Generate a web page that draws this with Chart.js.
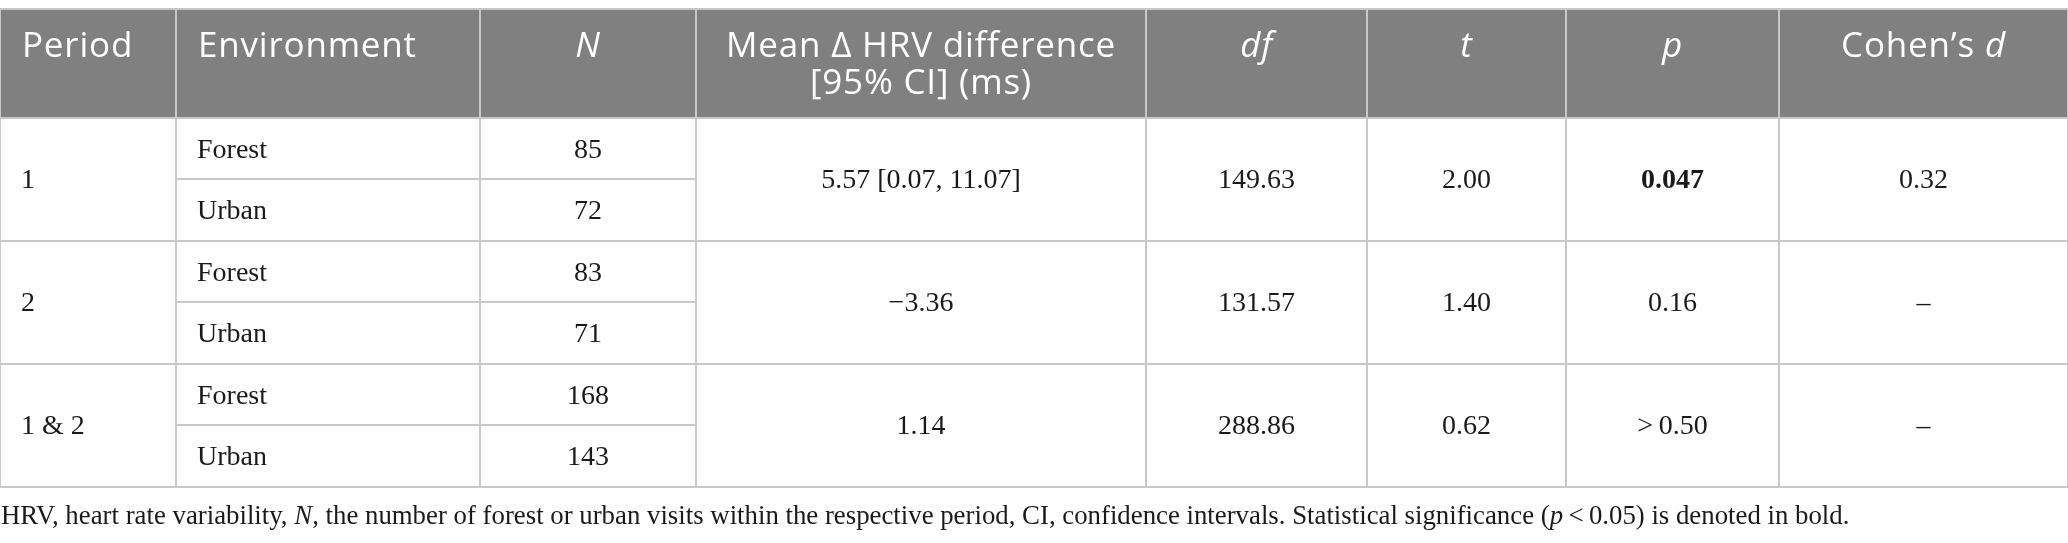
<!DOCTYPE html>
<html>
<head>
<meta charset="utf-8">
<script src="https://cdn.jsdelivr.net/npm/chart.js@4.4.1/dist/chart.umd.min.js"></script>
<style>
html,body{margin:0;padding:0;background:#fff}
canvas{display:block}
</style>
</head>
<body>
<canvas id="c" width="2068" height="543"></canvas>
<script>
// ---- data ----
const headers = ['Period', 'Environment', '_N_', 'Mean Δ HRV difference\n[95% CI] (ms)', '_df_', '_t_', '_p_', 'Cohen\u2019s _d_'];
const periods = ['1', '2', '1 & 2'];
const environments = ['Forest', 'Urban'];
const nValues = [85, 72, 83, 71, 168, 143];
const meanDiff = ['5.57 [0.07, 11.07]', '\u22123.36', '1.14'];
const dfValues = ['149.63', '131.57', '288.86'];
const tValues = ['2.00', '1.40', '0.62'];
const pValues = ['**0.047**', '0.16', '>\u20090.50'];
const cohenD = ['0.32', '\u2013', '\u2013'];
const footnote = 'HRV, heart rate variability, _N_, the number of forest or urban visits within the respective period, CI, confidence intervals. Statistical significance (_p_\u2009<\u20090.05) is denoted in bold.';

// ---- layout / style ----
const COL_W = [176, 304, 216, 450, 221, 199, 213, 289];
const LEFT_ALIGNED = [true, true, false, false, false, false, false, false];
const HEADER_UNITS = 1.772;
const HEAD_PAD = 22;
const CELL_PAD = 21;
const HEADER_BG = '#7f807f';
const LINE = '#c8c8c8';
const SANS = '"Open Sans", sans-serif';
const SERIF = '"Liberation Serif", serif';
const TEXT = '#1a1a1a';

const edges = COL_W.reduce((a, w) => { a.push(a[a.length - 1] + w); return a; }, [0]);
const TOTAL = edges[edges.length - 1];
const bodyRows = periods.length * environments.length;

function runsOf(s) {
  return s.split(/(\*\*[^*]+\*\*|_[^_]+_)/).filter(Boolean).map(p => {
    if (p.startsWith('**') && p.endsWith('**') && p.length > 4) return { t: p.slice(2, -2), b: true };
    if (p.startsWith('_') && p.endsWith('_') && p.length > 2) return { t: p.slice(1, -1), i: true };
    return { t: p };
  });
}
function drawRich(ctx, s, x, y, align, size, family, color, spacing) {
  const runs = runsOf(s);
  const font = r => `${r.i ? 'italic ' : ''}${r.b ? 'bold ' : ''}${size}px ${family}`;
  ctx.letterSpacing = spacing || '0px';
  let w = 0;
  runs.forEach(r => { ctx.font = font(r); r.w = ctx.measureText(r.t).width; w += r.w; });
  let cx = align === 'center' ? x - w / 2 : x;
  ctx.textAlign = 'left';
  ctx.textBaseline = 'alphabetic';
  ctx.fillStyle = color;
  runs.forEach(r => { ctx.font = font(r); ctx.fillText(r.t, cx, y); cx += r.w; });
}

const tablePlugin = {
  id: 'table',
  beforeDraw(chart) {
    const { ctx, chartArea: a, scales: { y } } = chart;
    const t = y.getPixelForValue(0), b = y.getPixelForValue(HEADER_UNITS);
    ctx.save();
    ctx.fillStyle = HEADER_BG;
    ctx.fillRect(a.left, t, a.right - a.left, b - t);
    ctx.restore();
  },
  beforeDatasetsDraw(chart) {
    const { ctx, scales: { x, y } } = chart;
    ctx.save();
    ctx.strokeStyle = LINE;
    ctx.lineWidth = 2;
    for (let g = 0; g < periods.length; g++) {
      const yy = Math.round(y.getPixelForValue(HEADER_UNITS + g * 2 + 1));
      ctx.beginPath();
      ctx.moveTo(x.getPixelForValue(edges[1]), yy);
      ctx.lineTo(x.getPixelForValue(edges[3]), yy);
      ctx.stroke();
    }
    ctx.restore();
  },
  afterDraw(chart) {
    const { ctx, chartArea: a, scales: { x, y } } = chart;
    ctx.save();
    const colX = (c, pad) => LEFT_ALIGNED[c] ? x.getPixelForValue(edges[c]) + pad : x.getPixelForValue((edges[c] + edges[c + 1]) / 2);
    const colA = c => LEFT_ALIGNED[c] ? 'left' : 'center';
    // header
    const top = y.getPixelForValue(0);
    headers.forEach((h, c) => {
      h.split('\n').forEach((ln, k) => {
        drawRich(ctx, ln, colX(c, HEAD_PAD), top + 48 + k * 37, colA(c), 35, SANS, '#ffffff', '0.8px');
      });
    });
    // body
    const BS = 28, off = 9;
    for (let r = 0; r < bodyRows; r++) {
      const cy = y.getPixelForValue(HEADER_UNITS + r + 0.5) + off;
      drawRich(ctx, environments[r % environments.length], colX(1, CELL_PAD), cy, colA(1), BS, SERIF, TEXT);
      drawRich(ctx, String(nValues[r]), colX(2, CELL_PAD), cy, colA(2), BS, SERIF, TEXT);
    }
    periods.forEach((p, g) => {
      const cy = y.getPixelForValue(HEADER_UNITS + g * 2 + 1) + off;
      drawRich(ctx, p, colX(0, CELL_PAD), cy, colA(0), BS, SERIF, TEXT);
      drawRich(ctx, meanDiff[g], colX(3, CELL_PAD), cy, colA(3), BS, SERIF, TEXT);
      drawRich(ctx, dfValues[g], colX(4, CELL_PAD), cy, colA(4), BS, SERIF, TEXT);
      drawRich(ctx, tValues[g], colX(5, CELL_PAD), cy, colA(5), BS, SERIF, TEXT);
      drawRich(ctx, pValues[g], colX(6, CELL_PAD), cy, colA(6), BS, SERIF, TEXT);
      drawRich(ctx, cohenD[g], colX(7, CELL_PAD), cy, colA(7), BS, SERIF, TEXT);
    });
    // footnote
    drawRich(ctx, footnote, a.left + 1, a.bottom + 37, 'left', 26.8, SERIF, TEXT);
    ctx.restore();
  }
};

new Chart(document.getElementById('c'), {
  type: 'scatter',
  data: { datasets: [{ data: [], pointRadius: 0 }] },
  options: {
    responsive: false,
    devicePixelRatio: 1,
    animation: false,
    events: [],
    layout: { padding: { top: 9, bottom: 56, left: 0, right: 0 } },
    plugins: { legend: { display: false }, tooltip: { enabled: false }, title: { display: false } },
    scales: {
      x: {
        type: 'linear', min: 0, max: TOTAL,
        ticks: { display: false },
        grid: { color: LINE, lineWidth: 2, drawTicks: false },
        border: { display: false },
        afterBuildTicks: s => { s.ticks = edges.map(v => ({ value: v })); }
      },
      y: {
        type: 'linear', reverse: true, min: 0, max: HEADER_UNITS + bodyRows,
        ticks: { display: false },
        grid: { color: LINE, lineWidth: 2, drawTicks: false },
        border: { display: false },
        afterBuildTicks: s => {
          const v = [0, HEADER_UNITS];
          for (let g = 1; g <= periods.length; g++) v.push(HEADER_UNITS + g * 2);
          s.ticks = v.map(val => ({ value: val }));
        }
      }
    }
  },
  plugins: [tablePlugin]
});
</script>
</body>
</html>
